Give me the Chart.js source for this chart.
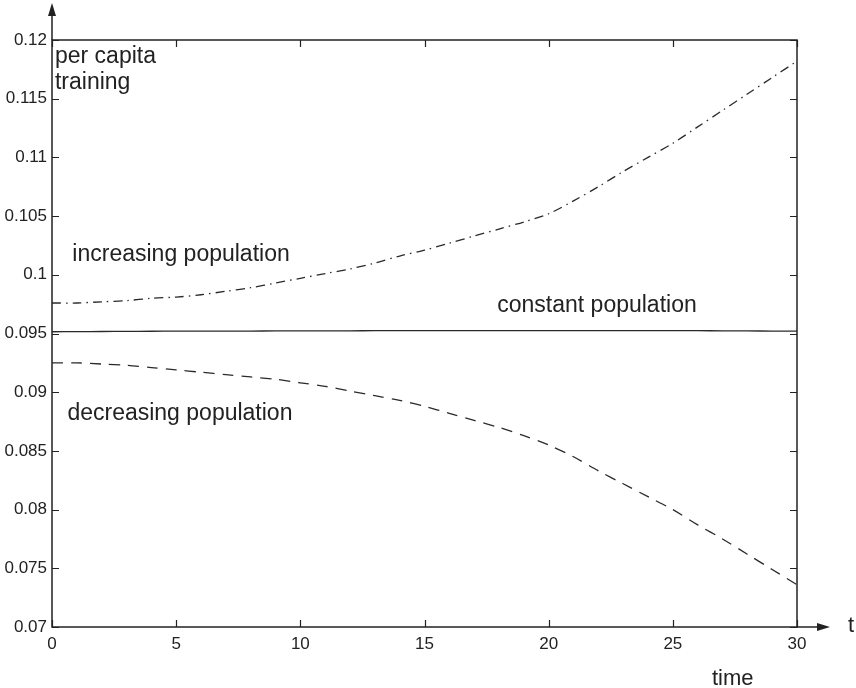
<!DOCTYPE html>
<html>
<head>
<meta charset="utf-8">
<script src="https://cdn.jsdelivr.net/npm/chart.js@4.4.1/dist/chart.umd.min.js"></script>
<style>
  html, body { margin: 0; padding: 0; background: #ffffff; }
  #wrap { width: 856px; height: 688px; }
</style>
</head>
<body>
<div id="wrap"><canvas id="c" width="856" height="688"></canvas></div>
<script>
// time axis (years)
const times = [0,1,2,3,4,5,6,7,8,9,10,11,12,13,14,15,16,17,18,19,20,21,22,23,24,25,26,27,28,29,30];

// per capita training under three population scenarios
const increasing = [0.0976,0.0976,0.0977,0.0978,0.0980,0.0981,0.0983,0.0986,0.0989,0.0993,0.0997,
                    0.1001,0.1005,0.1010,0.1016,0.1021,0.1027,0.1033,0.1039,0.1045,0.1052,
                    0.1063,0.1075,0.1088,0.1100,0.1112,0.1126,0.1140,0.1154,0.1168,0.1182];
const constant   = [0.09515,0.09516,0.09517,0.09518,0.09519,0.0952,0.0952,0.09521,0.09521,0.09522,0.09522,
                    0.09523,0.09523,0.09524,0.09524,0.09524,0.09525,0.09525,0.09525,0.09525,0.09525,
                    0.09525,0.09525,0.09525,0.09525,0.09524,0.09524,0.09523,0.09522,0.09521,0.0952];
const decreasing = [0.0925,0.0925,0.0924,0.0923,0.0921,0.0919,0.0917,0.0915,0.0913,0.0911,0.0908,
                    0.0905,0.0901,0.0897,0.0893,0.0888,0.0882,0.0876,0.0870,0.0863,0.0855,
                    0.0845,0.0833,0.0822,0.0811,0.0800,0.0787,0.0775,0.0762,0.0749,0.0736];

// axis ticks
const xTicks = [0, 5, 10, 15, 20, 25, 30];
const yTicks = [0.07, 0.075, 0.08, 0.085, 0.09, 0.095, 0.1, 0.105, 0.11, 0.115, 0.12];

// curve labels, placed in data coordinates (t, value at text baseline)
const curveLabels = [
  { text: 'per capita',            t: 0.12,  v: 0.1180 },
  { text: 'training',              t: 0.12,  v: 0.1158 },
  { text: 'increasing population', t: 0.82,  v: 0.1012 },
  { text: 'constant population',   t: 17.93, v: 0.0968 },
  { text: 'decreasing population', t: 0.62,  v: 0.0876 }
];

const FONT = '"Liberation Sans", Arial, Helvetica, sans-serif';
const INK = '#222222';

const toXY = arr => times.map((t, i) => ({ x: t, y: arr[i] }));

// box with inward ticks, axis arrows and text labels
const framePlugin = {
  id: 'frame',
  afterDatasetsDraw(chart) {
    const { ctx, chartArea: a, scales: { x, y } } = chart;
    ctx.save();
    ctx.strokeStyle = INK;
    ctx.fillStyle = INK;
    ctx.lineWidth = 1.5;
    ctx.strokeRect(a.left, a.top, a.right - a.left, a.bottom - a.top);

    const tl = 7;
    ctx.lineWidth = 1.2;
    ctx.beginPath();
    xTicks.forEach(v => {
      const px = Math.round(x.getPixelForValue(v)) + 0.5;
      ctx.moveTo(px, a.bottom); ctx.lineTo(px, a.bottom - tl);
      ctx.moveTo(px, a.top);    ctx.lineTo(px, a.top + tl);
    });
    yTicks.forEach(v => {
      const py = Math.round(y.getPixelForValue(v)) + 0.5;
      ctx.moveTo(a.left, py);  ctx.lineTo(a.left + tl, py);
      ctx.moveTo(a.right, py); ctx.lineTo(a.right - tl, py);
    });
    ctx.stroke();

    // y arrow
    ctx.lineWidth = 1.5;
    ctx.beginPath();
    ctx.moveTo(a.left, a.top); ctx.lineTo(a.left, a.top - 26);
    ctx.stroke();
    ctx.beginPath();
    ctx.moveTo(a.left, a.top - 37);
    ctx.lineTo(a.left - 4, a.top - 24);
    ctx.lineTo(a.left + 4, a.top - 24);
    ctx.closePath();
    ctx.fill();

    // x arrow
    ctx.beginPath();
    ctx.moveTo(a.right, a.bottom); ctx.lineTo(a.right + 22, a.bottom);
    ctx.stroke();
    ctx.beginPath();
    ctx.moveTo(a.right + 33, a.bottom);
    ctx.lineTo(a.right + 20, a.bottom - 4);
    ctx.lineTo(a.right + 20, a.bottom + 4);
    ctx.closePath();
    ctx.fill();

    // labels
    ctx.textAlign = 'left';
    ctx.textBaseline = 'alphabetic';
    ctx.font = '23px ' + FONT;
    curveLabels.forEach(l => {
      ctx.fillText(l.text, x.getPixelForValue(l.t), y.getPixelForValue(l.v));
    });
    ctx.font = '22px ' + FONT;
    ctx.fillText('t', a.right + 51, a.bottom + 5);
    ctx.fillText('time', a.right - 85, a.bottom + 58);
    ctx.restore();
  }
};

new Chart(document.getElementById('c'), {
  type: 'line',
  data: {
    datasets: [
      { label: 'increasing population', data: toXY(increasing), borderColor: '#2a2a2a',
        borderWidth: 1.3, borderDash: [9, 5, 1.5, 5], pointRadius: 0, tension: 0.3 },
      { label: 'constant population', data: toXY(constant), borderColor: '#2a2a2a',
        borderWidth: 1.3, pointRadius: 0, tension: 0.3 },
      { label: 'decreasing population', data: toXY(decreasing), borderColor: '#2a2a2a',
        borderWidth: 1.3, borderDash: [11, 8], pointRadius: 0, tension: 0.3 }
    ]
  },
  options: {
    responsive: false,
    animation: false,
    layout: { padding: { top: 40, right: 59, left: 0, bottom: 0 } },
    plugins: { legend: { display: false }, tooltip: { enabled: false } },
    scales: {
      x: {
        type: 'linear', min: 0, max: 30,
        afterBuildTicks: s => { s.ticks = xTicks.map(v => ({ value: v })); },
        afterFit: s => { s.height = 61; },
        grid: { display: false, drawTicks: false },
        border: { display: false },
        ticks: { color: INK, padding: 7, font: { family: FONT, size: 17 }, maxRotation: 0,
                 callback: v => String(v) }
      },
      y: {
        min: 0.07, max: 0.12,
        afterBuildTicks: s => { s.ticks = yTicks.map(v => ({ value: v })); },
        afterFit: s => { s.width = 52; },
        grid: { display: false, drawTicks: false },
        border: { display: false },
        ticks: { color: INK, padding: 5, font: { family: FONT, size: 17 },
                 callback: v => String(Number(v.toFixed(3))) }
      }
    }
  },
  plugins: [framePlugin]
});
</script>
</body>
</html>
